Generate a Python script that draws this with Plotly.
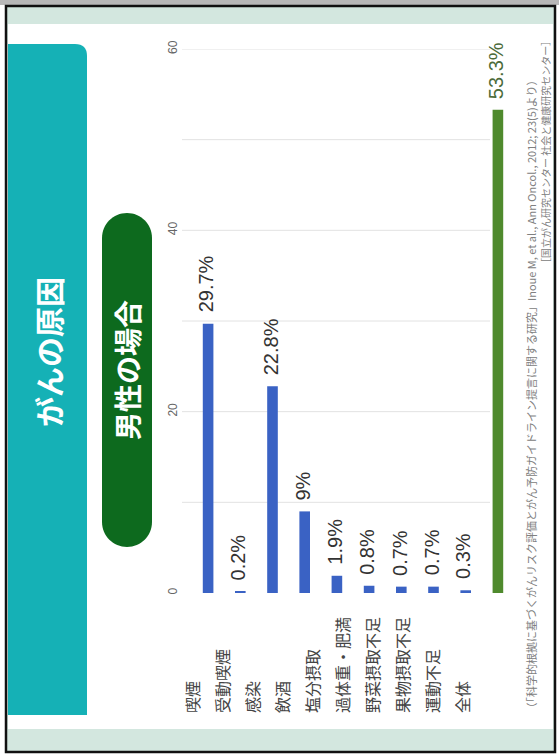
import plotly.graph_objects as go

# ---- data ----
categories = ["喫煙", "受動喫煙", "感染", "飲酒", "塩分摂取",
              "過体重・肥満", "野菜摂取不足", "果物摂取不足", "運動不足", "全体"]
values = [29.7, 0.2, 22.8, 9, 1.9, 0.8, 0.7, 0.7, 0.3, 53.3]
tick_values = [0, 20, 40, 60]
tick_labels = ["0", "20", "40", "60"]
grid_values = [10, 20, 30, 40, 50, 60]
title_text = "がんの原因"
subtitle_text = "男性の場合"
source_lines = [
    "（「科学的根拠に基づくがんリスク評価とがん予防ガイドライン提言に関する研究」Inoue M, et al., Ann Oncol., 2012; 23(5)より）",
    "［国立がん研究センター 社会と健康研究センター］",
]

# ---- canvas geometry (pixels) ----
FIG_W, FIG_H = 559, 755
M_L, M_R, M_T, M_B = 192, 45, 49, 162
PLOT_W = FIG_W - M_L - M_R
PLOT_H = FIG_H - M_T - M_B


def px(x):
    return (x - M_L) / PLOT_W


def py(y):
    return (FIG_H - M_B - y) / PLOT_H


def path(cmds):
    """Build an SVG path in paper units from pixel-space commands."""
    out = []
    for cmd, pts in cmds:
        coords = " ".join(f"{px(x):.5f},{py(y):.5f}" for x, y in pts)
        out.append(f"{cmd}{coords}")
    return " ".join(out) + " Z"


BLUE = "#3a62c4"
GREEN = "#4f8a2d"
TEAL = "#15b1b6"
DARK_GREEN = "#0d6a1e"
JP_FONT = "Noto Sans CJK JP, Noto Sans, sans-serif"
NUM_FONT = "Liberation Sans, Arial, sans-serif"

bar_colors = [GREEN if c == "全体" else BLUE for c in categories]

fig = go.Figure(
    go.Bar(
        x=categories,
        y=values,
        marker=dict(color=bar_colors, line=dict(width=0)),
        width=0.33,
        hoverinfo="skip",
    )
)

shapes = []
# page background, frame and card
shapes.append(dict(type="rect", xref="paper", yref="paper",
                   x0=px(0), x1=px(FIG_W), y0=py(0), y1=py(5),
                   fillcolor="#b8b8b8", line=dict(width=0), layer="below"))
shapes.append(dict(type="rect", xref="paper", yref="paper",
                   x0=px(6), x1=px(555), y0=py(6), y1=py(752),
                   fillcolor="#d3e7df", line=dict(color="#111111", width=2.5),
                   layer="below"))
shapes.append(dict(type="rect", xref="paper", yref="paper",
                   x0=px(8), x1=px(553), y0=py(24), y1=py(729),
                   fillcolor="#ffffff", line=dict(width=0), layer="below"))
# teal side panel with rounded upper-right corner
shapes.append(dict(type="path", xref="paper", yref="paper",
                   path=path([("M", [(8, 715)]), ("L", [(8, 44)]), ("L", [(75, 44)]),
                              ("Q", [(87, 44), (87, 56)]), ("L", [(87, 715)])]),
                   fillcolor=TEAL, line=dict(width=0), layer="below"))
# dark green pill behind the subtitle
k = 0.5523 * 25
shapes.append(dict(type="path", xref="paper", yref="paper",
                   path=path([
                       ("M", [(102, 238)]),
                       ("C", [(102, 238 - k), (127 - k, 213), (127, 213)]),
                       ("C", [(127 + k, 213), (152, 238 - k), (152, 238)]),
                       ("L", [(152, 522)]),
                       ("C", [(152, 522 + k), (127 + k, 547), (127, 547)]),
                       ("C", [(127 - k, 547), (102, 522 + k), (102, 522)]),
                   ]),
                   fillcolor=DARK_GREEN, line=dict(width=0), layer="below"))
# horizontal gridlines
for g in grid_values:
    shapes.append(dict(type="line", xref="paper", yref="y",
                       x0=px(182), x1=px(490), y0=g, y1=g,
                       line=dict(color="#e2e2e2", width=1), layer="below"))

annotations = []
# titles
annotations.append(dict(xref="paper", yref="paper", x=px(48), y=py(352),
                        xanchor="center", yanchor="middle",
                        text=f"<b>{title_text}</b>", textangle=-90, showarrow=False,
                        font=dict(family=JP_FONT, size=30, color="#ffffff")))
annotations.append(dict(xref="paper", yref="paper", x=px(127), y=py(370),
                        xanchor="center", yanchor="middle",
                        text=f"<b>{subtitle_text}</b>", textangle=-90, showarrow=False,
                        font=dict(family=JP_FONT, size=28, color="#ffffff")))
# value labels above each bar
for c, v in zip(categories, values):
    annotations.append(dict(xref="x", yref="y", x=c, y=v, yanchor="bottom",
                            xanchor="center", yshift=9, xshift=-2,
                            text=f"{v:g}%", textangle=-90, showarrow=False,
                            font=dict(family=NUM_FONT, size=20,
                                      color="#4b6b3a" if c == "全体" else "#333333")))
# category labels along the bottom
for i, c in enumerate(categories):
    annotations.append(dict(xref="x", yref="paper", x=c, y=py(715),
                            xanchor="center", yanchor="bottom",
                            xshift=-16 - 2.2 * i,
                            text=c, textangle=-90, showarrow=False,
                            font=dict(family=JP_FONT, size=16, color="#444444")))
# source notes
annotations.append(dict(xref="paper", yref="paper", x=px(530), y=py(716),
                        xanchor="center", yanchor="bottom",
                        text=source_lines[0], textangle=-90, showarrow=False,
                        font=dict(family=JP_FONT, size=11, color="#808080")))
annotations.append(dict(xref="paper", yref="paper", x=px(545), y=py(34),
                        xanchor="center", yanchor="top",
                        text=source_lines[1], textangle=-90, showarrow=False,
                        font=dict(family=JP_FONT, size=10, color="#808080")))

fig.update_layout(
    width=FIG_W,
    height=FIG_H,
    autosize=False,
    margin=dict(l=M_L, r=M_R, t=M_T, b=M_B, pad=0),
    paper_bgcolor="#ffffff",
    plot_bgcolor="rgba(0,0,0,0)",
    showlegend=False,
    bargap=0.67,
    xaxis=dict(showticklabels=False, showgrid=False, zeroline=False,
               showline=False, ticks="", range=[-0.5, len(categories) - 0.5],
               fixedrange=True),
    yaxis=dict(range=[0, 60], tickvals=tick_values, ticktext=tick_labels,
               tickangle=-90, showgrid=False, zeroline=False, showline=False,
               ticks="", ticklabelstandoff=12,
               tickfont=dict(family=NUM_FONT, size=12, color="#666666"),
               fixedrange=True),
    shapes=shapes,
    annotations=annotations,
)

fig.write_html("out.html")
